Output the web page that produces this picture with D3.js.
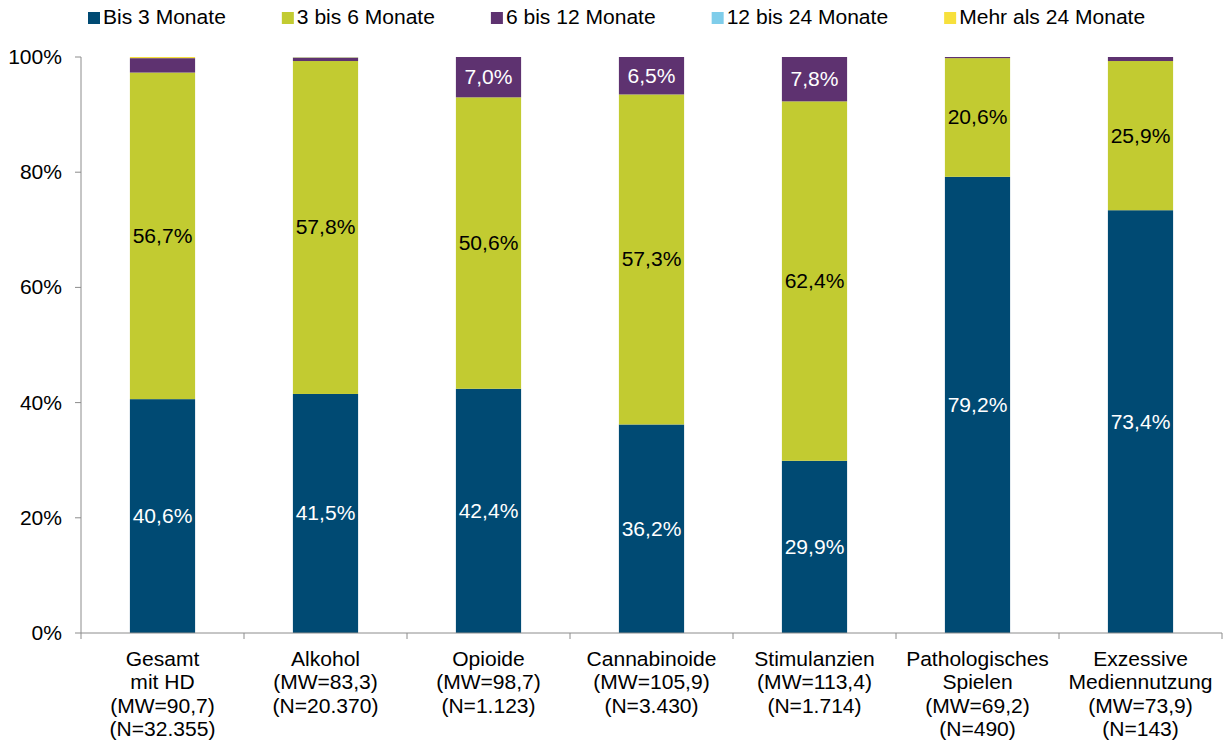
<!DOCTYPE html>
<html><head><meta charset="utf-8">
<script src="https://cdn.jsdelivr.net/npm/d3@7"></script>
<style>
html,body{margin:0;padding:0;background:#fff;}
text{font-family:"Liberation Sans",Arial,sans-serif;}
</style></head>
<body><svg id="c" width="1223" height="747"></svg>
<script>
const categories = [
  ["Gesamt","mit HD","(MW=90,7)","(N=32.355)"],
  ["Alkohol","(MW=83,3)","(N=20.370)"],
  ["Opioide","(MW=98,7)","(N=1.123)"],
  ["Cannabinoide","(MW=105,9)","(N=3.430)"],
  ["Stimulanzien","(MW=113,4)","(N=1.714)"],
  ["Pathologisches","Spielen","(MW=69,2)","(N=490)"],
  ["Exzessive","Mediennutzung","(MW=73,9)","(N=143)"]
];
const seriesNames = ["Bis 3 Monate","3 bis 6 Monate","6 bis 12 Monate","12 bis 24 Monate","Mehr als 24 Monate"];
const bis3   = [40.6, 41.5, 42.4, 36.2, 29.9, 79.2, 73.4];
const bis6   = [56.7, 57.8, 50.6, 57.3, 62.4, 20.6, 25.9];
const bis12  = [2.5, 0.6, 7.0, 6.5, 7.8, 0.2, 0.7];
const bis24  = [0.0, 0.05, 0.0, 0.0, 0.0, 0.0, 0.0];
const mehr24 = [0.2, 0.05, 0.0, 0.0, 0.0, 0.0, 0.0];
const yTicks = [0, 20, 40, 60, 80, 100];

const colors = ["#004a73","#c2cb31","#5e3270","#7fcdea","#f7e03c"];
const labelColors = ["#ffffff","#000000","#ffffff","#000000","#000000"];
const series = [bis3, bis6, bis12, bis24, mehr24];
const FS = 19.5, SX = 1.08;
const fmt = v => v.toFixed(1).replace(".", ",") + "%";

const svg = d3.select("#c");
const m = {l:81, r:1222, t:57, b:633};
const x = d3.scaleBand().domain(d3.range(categories.length)).range([m.l, m.r]).paddingInner(0.6).paddingOuter(0.3);
const y = d3.scaleLinear().domain([0,100]).range([m.b, m.t]);
const axisCol = "#8c8c8c";

function stext(g, tx, ty, str, anchor, fill, fs){
  const t = g.append("text")
    .attr("transform", `translate(${tx},${ty}) scale(${SX},1)`)
    .attr("text-anchor", anchor).attr("fill", fill || "#000")
    .attr("font-size", fs || FS).text(str);
  return t;
}

// bars
const stack = categories.map((c,i) => {
  let acc = 0;
  return series.map((s,k) => { const y0 = acc; acc += s[i]; return {k, i, y0, y1: acc, v: s[i]}; });
});
const gb = svg.append("g");
stack.forEach(segs => segs.forEach(d => {
  if (d.v <= 0) return;
  gb.append("rect")
    .attr("x", x(d.i)).attr("width", x.bandwidth())
    .attr("y", y(Math.min(d.y1,100))).attr("height", y(d.y0) - y(Math.min(d.y1,100)))
    .attr("fill", colors[d.k]);
}));
// labels
const gl = svg.append("g");
stack.forEach(segs => segs.forEach(d => {
  if (d.v < 5) return;
  const cy = (y(d.y0) + y(Math.min(d.y1,100))) / 2;
  stext(gl, x(d.i) + x.bandwidth()/2, cy + 7, fmt(d.v), "middle", labelColors[d.k]);
}));

// y axis
const ga = svg.append("g");
ga.append("line").attr("x1", m.l).attr("x2", m.l).attr("y1", y(100)).attr("y2", y(0)).attr("stroke", axisCol);
yTicks.forEach(t => {
  ga.append("line").attr("x1", m.l-6).attr("x2", m.l).attr("y1", y(t)).attr("y2", y(t)).attr("stroke", axisCol);
  stext(ga, m.l-19, y(t)+7, t + "%", "end", "#000");
});
// x axis
ga.append("line").attr("x1", m.l).attr("x2", m.r).attr("y1", y(0)).attr("y2", y(0)).attr("stroke", axisCol);
const step = x.step();
d3.range(categories.length + 1).forEach(j => {
  const xx = m.l + j * step;
  ga.append("line").attr("x1", xx).attr("x2", xx).attr("y1", y(0)).attr("y2", y(0)+6).attr("stroke", axisCol);
});
categories.forEach((lines, i) => {
  lines.forEach((ln, li) => {
    stext(ga, x(i) + x.bandwidth()/2, 666 + li*23.4, ln, "middle", "#000");
  });
});

// legend
const gleg = svg.append("g");
let lx = 88;
seriesNames.forEach((n, k) => {
  gleg.append("rect").attr("x", lx).attr("y", 12).attr("width", 12).attr("height", 12).attr("fill", colors[k]);
  const t = stext(gleg, lx + 15, 24, n, "start", "#000");
  const w = t.node().getComputedTextLength() * SX;
  lx += 15 + w + 56;
});
</script></body></html>
